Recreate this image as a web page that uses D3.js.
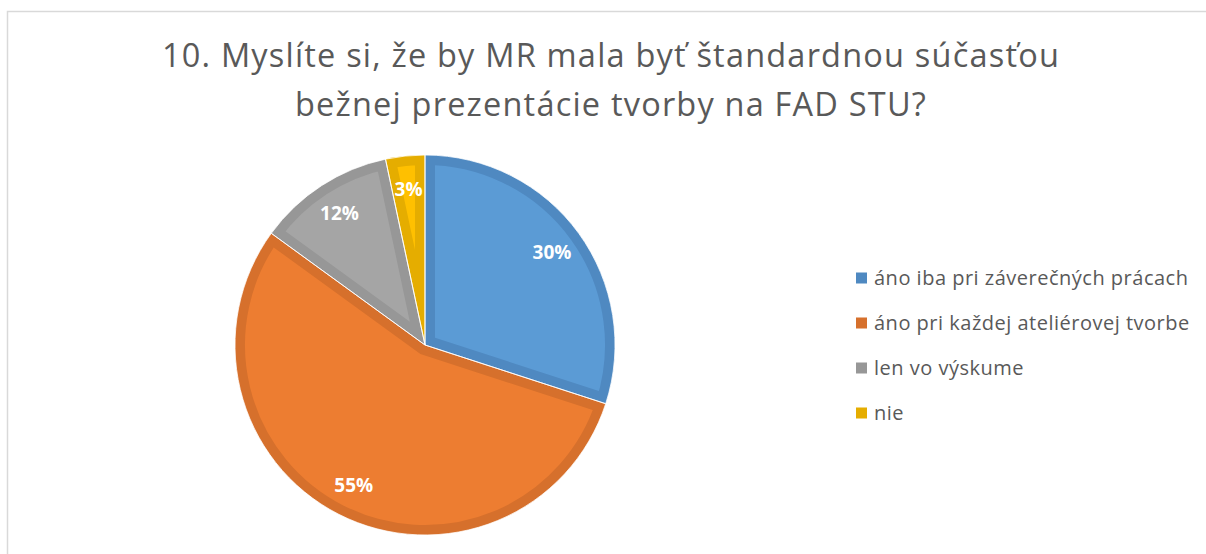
<!DOCTYPE html>
<html>
<head>
<meta charset="utf-8">
<script src="https://cdn.jsdelivr.net/npm/d3@7"></script>
<style>
  html, body { margin: 0; padding: 0; background: #fff; }
  svg { display: block; }
</style>
</head>
<body>
<svg id="chart" width="1206" height="554"></svg>
<script>
// Survey question 10 – answer shares
const titleLines = [
  "10. Myslíte si, že by MR mala byť štandardnou súčasťou",
  "bežnej prezentácie tvorby na FAD STU?"
];
const categories = [
  "áno iba pri záverečných prácach",
  "áno pri každej ateliérovej tvorbe",
  "len vo výskume",
  "nie"
];
const counts = [18, 33, 7, 2];
const fillColors = ["#5B9BD5", "#ED7D31", "#A5A5A5", "#FFC000"];
const edgeColors = ["#4F89C1", "#D6702C", "#979797", "#E5AD00"];

const svg = d3.select("#chart");
const W = 1206, H = 554;

// chart frame
svg.append("path")
  .attr("d", `M7.5,${H} V11.5 H${W}`)
  .attr("fill", "none")
  .attr("stroke", "#d9d9d9")
  .attr("stroke-width", 1.5);

// title
svg.append("g")
  .selectAll("text")
  .data(titleLines)
  .join("text")
  .attr("x", 611)
  .attr("y", (d, i) => 67 + i * 49)
  .attr("text-anchor", "middle")
  .attr("font-family", "'Open Sans', sans-serif")
  .attr("font-size", 32.5)
  .attr("fill", "#595959")
  .attr("letter-spacing", 1.2)
  .text(d => d);

// pie
const cx = 425, cy = 345, R = 190;
const total = d3.sum(counts);
const pie = d3.pie().sort(null).value(d => d);
const arcs = pie(counts);
const arc = d3.arc().innerRadius(0).outerRadius(R);
const labelArc = d3.arc().innerRadius(157).outerRadius(157);

const defs = svg.append("defs");
defs.selectAll("clipPath")
  .data(arcs)
  .join("clipPath")
  .attr("id", (d, i) => "slice-clip-" + i)
  .append("path")
  .attr("d", arc);

const pieG = svg.append("g").attr("transform", `translate(${cx},${cy})`);

// slices with an inner darker rim
pieG.selectAll("path.slice")
  .data(arcs)
  .join("path")
  .attr("class", "slice")
  .attr("d", arc)
  .attr("fill", (d, i) => fillColors[i])
  .attr("stroke", (d, i) => edgeColors[i])
  .attr("stroke-width", 20)
  .attr("stroke-linejoin", "miter")
  .attr("clip-path", (d, i) => `url(#slice-clip-${i})`);

// thin separators between slices
pieG.selectAll("path.sep")
  .data(arcs)
  .join("path")
  .attr("class", "sep")
  .attr("d", arc)
  .attr("fill", "none")
  .attr("stroke", "#ffffff")
  .attr("stroke-width", 0.8);

// percentage labels
pieG.selectAll("text")
  .data(arcs)
  .join("text")
  .attr("transform", d => `translate(${labelArc.centroid(d)})`)
  .attr("text-anchor", "middle")
  .attr("dy", "0.35em")
  .attr("font-family", "'Open Sans', sans-serif")
  .attr("font-weight", 700)
  .attr("font-size", 19)
  .attr("fill", "#ffffff")
  .text(d => Math.round(d.data / total * 100) + "%");

// legend
const legend = svg.append("g").attr("transform", "translate(856,278)");
const rows = legend.selectAll("g")
  .data(categories)
  .join("g")
  .attr("transform", (d, i) => `translate(0,${i * 45})`);
rows.append("rect")
  .attr("x", 0).attr("y", -5.5)
  .attr("width", 11).attr("height", 11)
  .attr("fill", (d, i) => edgeColors[i]);
rows.append("text")
  .attr("x", 18)
  .attr("dy", "0.35em")
  .attr("font-family", "'Open Sans', sans-serif")
  .attr("font-size", 20)
  .attr("letter-spacing", 0.5)
  .attr("fill", "#595959")
  .text(d => d);
</script>
</body>
</html>
